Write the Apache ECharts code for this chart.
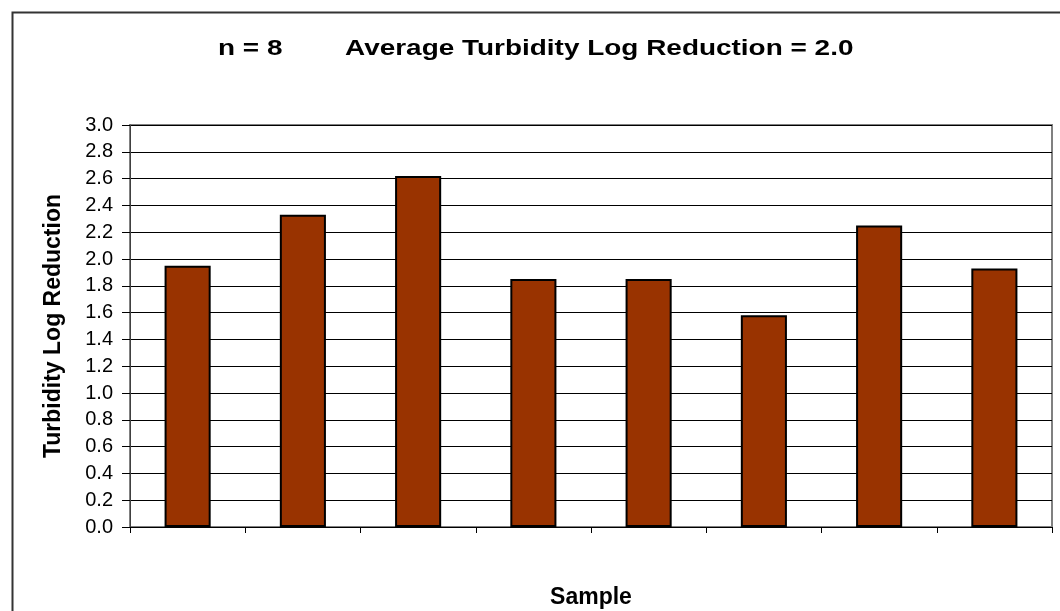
<!DOCTYPE html>
<html>
<head>
<meta charset="utf-8">
<script src="https://cdn.jsdelivr.net/npm/echarts@6/dist/echarts.min.js"></script>
<style>html,body{margin:0;padding:0;background:#fff;}#c{width:1060px;height:611px;}</style>
</head>
<body>
<div id="c"></div>
<script>
var categories = ['1', '2', '3', '4', '5', '6', '7', '8'];
var logReduction = [1.95, 2.33, 2.62, 1.85, 1.85, 1.58, 2.25, 1.93];
var yTicks = { min: 0, max: 3.0, interval: 0.2 };
var titleLeft = 'n = 8';
var titleRight = 'Average Turbidity Log Reduction = 2.0';
var xName = 'Sample';
var yName = 'Turbidity Log Reduction';

var chart = echarts.init(document.getElementById('c'), null, { renderer: 'canvas' });
var FONT = 'Liberation Sans, Arial, sans-serif';
var titleFont = 'bold 22px ' + FONT;
chart.setOption({
  animation: false,
  backgroundColor: '#fff',
  graphic: [{
    type: 'rect', left: 10, top: 10,
    shape: { width: 1070, height: 620 },
    style: { fill: 'none', stroke: '#333', lineWidth: 2 },
    silent: true, z: -1
  }, {
    type: 'text', x: 218, y: 49, scaleX: 1.27,
    style: { text: titleLeft, font: titleFont, fill: '#000', textAlign: 'left', textVerticalAlign: 'middle' },
    silent: true
  }, {
    type: 'text', x: 345, y: 49, scaleX: 1.27,
    style: { text: titleRight, font: titleFont, fill: '#000', textAlign: 'left', textVerticalAlign: 'middle' },
    silent: true
  }],
  grid: { left: 130, right: 8, top: 125, bottom: 84, containLabel: false, outerBoundsMode: 'none',
          show: true, borderColor: '#808080', borderWidth: 2, backgroundColor: 'transparent' },
  xAxis: {
    type: 'category',
    data: categories,
    boundaryGap: true,
    name: xName,
    nameLocation: 'middle',
    nameGap: 59,
    nameTextStyle: { fontFamily: FONT, fontWeight: 'bold', fontSize: 23, color: '#000', verticalAlign: 'top' },
    axisLine: { lineStyle: { color: '#000', width: 1 } },
    axisTick: { show: true, interval: 0, length: 6, lineStyle: { color: '#000' } },
    axisLabel: { show: false },
    splitLine: { show: false }
  },
  yAxis: {
    type: 'value',
    min: yTicks.min,
    max: yTicks.max,
    interval: yTicks.interval,
    name: yName,
    nameLocation: 'middle',
    nameGap: 65,
    nameTextStyle: { fontFamily: FONT, fontWeight: 'bold', fontSize: 23, color: '#000' },
    axisLine: { show: true, lineStyle: { color: '#404040', width: 1 } },
    axisTick: { show: true, length: 8, lineStyle: { color: '#000' } },
    axisLabel: {
      fontFamily: FONT, fontSize: 20, color: '#000', margin: 17,
      formatter: function (v) { return v.toFixed(1); }
    },
    splitLine: { show: true, lineStyle: { color: '#000', width: 1 } }
  },
  series: [{
    type: 'bar',
    data: logReduction,
    barWidth: '40%',
    itemStyle: { color: '#993300', borderColor: '#000', borderWidth: 2 }
  }]
});
</script>
</body>
</html>
